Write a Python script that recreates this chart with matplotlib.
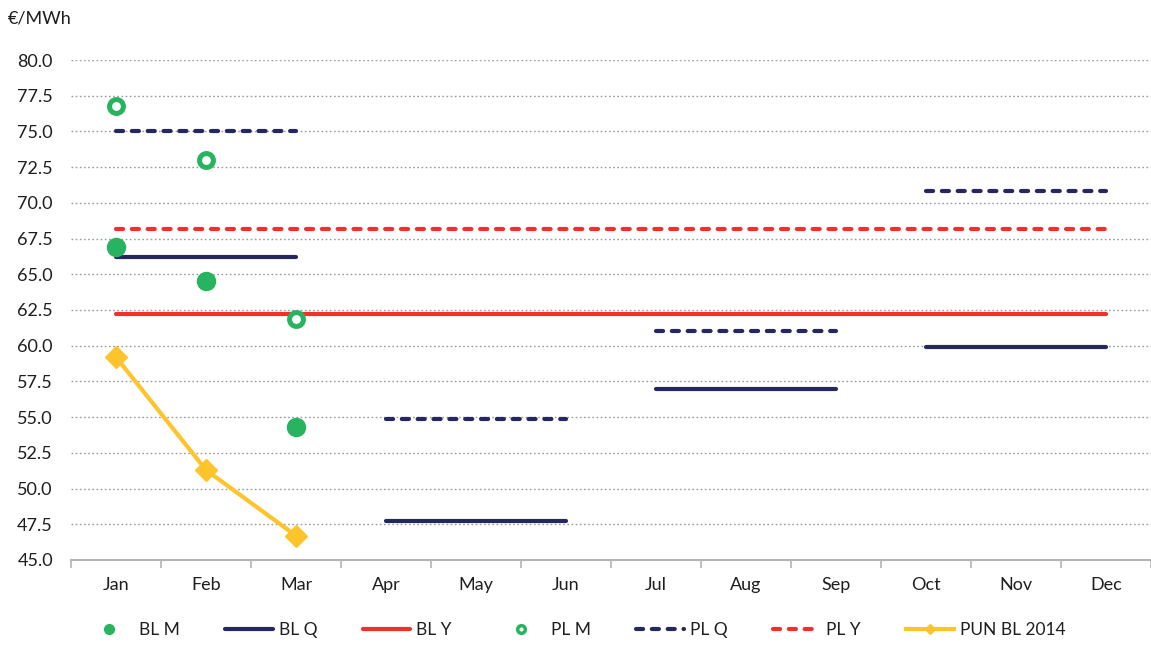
import numpy as np
import matplotlib
matplotlib.use("Agg")
import matplotlib.pyplot as plt
from matplotlib.lines import Line2D

plt.rcParams['font.family'] = ['Lato', 'DejaVu Sans']

months = ['Jan', 'Feb', 'Mar', 'Apr', 'May', 'Jun',
          'Jul', 'Aug', 'Sep', 'Oct', 'Nov', 'Dec']

# monthly products (Jan-Mar)
bl_m = [66.9, 64.5, 54.3]
pl_m = [76.8, 73.0, 61.9]
pun_bl_2014 = [59.2, 51.3, 46.7]

# quarterly products Q1..Q4
bl_q = [66.2, 47.7, 57.0, 59.9]
pl_q = [75.0, 54.9, 61.0, 70.8]

# calendar year products
bl_y = 62.2
pl_y = 68.2

GREEN = '#27b35f'
NAVY = '#27275f'
RED = '#f0302c'
YELLOW = '#fec42b'
TEXT = '#1e1e1e'


def main():
    fig = plt.figure(figsize=(11.51, 6.46), dpi=100)
    ax = fig.add_axes([71 / 1151, 1 - 560 / 646, 1 - 71 / 1151, 500 / 646])

    x = np.arange(len(months))
    mx = x[:len(bl_m)]

    # year lines span the whole year
    ax.plot([x[0], x[-1]], [bl_y, bl_y], color=RED, lw=3, solid_capstyle='round', zorder=3)
    ax.plot([x[0], x[-1]], [pl_y, pl_y], color=RED, lw=3, ls=(0, (1.7, 2.1)),
            dash_capstyle='round', zorder=3)

    # quarter lines span three months each
    for q in range(4):
        qx = [x[3 * q], x[3 * q + 2]]
        ax.plot(qx, [bl_q[q]] * 2, color=NAVY, lw=3, solid_capstyle='round', zorder=3)
        ax.plot(qx, [pl_q[q]] * 2, color=NAVY, lw=3, ls=(0, (1.7, 2.1)),
                dash_capstyle='round', zorder=3)

    ax.plot(mx, pun_bl_2014, color=YELLOW, lw=3, marker='D', ms=11,
            solid_capstyle='round', zorder=4)
    ax.plot(mx, bl_m, ls='none', marker='o', ms=13, color=GREEN, zorder=5)
    ax.plot(mx, pl_m, ls='none', marker='o', ms=10, mfc='white', mec=GREEN,
            mew=3.6, zorder=5)

    ax.set_ylim(45, 80)
    ax.set_xlim(-0.5, 11.5)
    ax.set_yticks(np.arange(45, 80.1, 2.5))
    ax.set_yticklabels(['%.1f' % v for v in np.arange(45, 80.1, 2.5)])
    ax.yaxis.grid(True, color='#9a9a9a', ls=(0, (1.2, 1.8)), lw=1)
    ax.set_axisbelow(True)

    ax.set_xticks(x)
    ax.set_xticklabels(months)
    ax.set_xticks(np.arange(-0.5, 12, 1), minor=True)
    ax.tick_params(axis='x', which='major', length=0, pad=12, labelsize=13, labelcolor=TEXT)
    ax.tick_params(axis='x', which='minor', length=6, width=1.2, color='#b4b4b4', direction='out')
    ax.tick_params(axis='y', length=0, pad=13, labelsize=13, labelcolor=TEXT)

    for s in ['top', 'right', 'left']:
        ax.spines[s].set_visible(False)
    ax.spines['bottom'].set_color('#b4b4b4')
    ax.spines['bottom'].set_linewidth(1.5)

    fig.text(8 / 1151, 1 - 18 / 646, '€/MWh', fontsize=13, va='center', color=TEXT)

    handles = [
        Line2D([], [], ls='none', marker='o', ms=7, color=GREEN),
        Line2D([], [], color=NAVY, lw=3, solid_capstyle='round'),
        Line2D([], [], color=RED, lw=3, solid_capstyle='round'),
        Line2D([], [], ls='none', marker='o', ms=5.5, mfc='white', mec=GREEN, mew=2.5),
        Line2D([], [], color=NAVY, lw=3, ls=(0, (1.7, 2.1)), dash_capstyle='round'),
        Line2D([], [], color=RED, lw=3, ls=(0, (1.7, 2.1)), dash_capstyle='round'),
        Line2D([], [], color=YELLOW, lw=3, marker='D', ms=5, markevery=[1]),
    ]
    labels = ['BL M', 'BL Q', 'BL Y', 'PL M', 'PL Q', 'PL Y', 'PUN BL 2014']
    fig.legend(handles, labels, loc='center', bbox_to_anchor=(0.5, 1 - 630 / 646),
               ncol=7, frameon=False, fontsize=12.5, handlelength=2.75,
               handletextpad=0.35, columnspacing=2.6, labelcolor=TEXT)

    fig.savefig('out.png', dpi=100)


if __name__ == "__main__":
    main()
